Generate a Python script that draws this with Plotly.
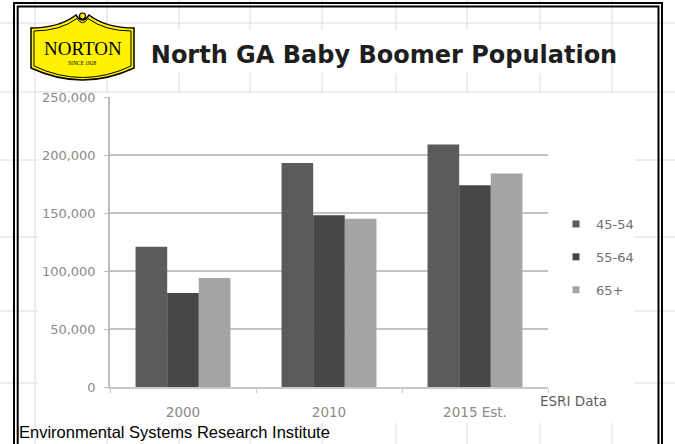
import plotly.graph_objects as go

# ---------------- data ----------------
categories = ["2000", "2010", "2015 Est."]
age_groups = ["45-54", "55-64", "65+"]
pop_45_54 = [121000, 193000, 209000]
pop_55_64 = [81000, 148000, 174000]
pop_65_plus = [94000, 145000, 184000]
y_tick_vals = [0, 50000, 100000, 150000, 200000, 250000]
series = [pop_45_54, pop_55_64, pop_65_plus]
bar_colors = ["#5b5b5b", "#474747", "#a4a4a4"]

# ---------------- geometry helpers (pixel -> paper) ----------------
W, H = 675, 444
L, R, T, B = 110, 548, 97, 387


def px(x):
    return (x - L) / (R - L)


def py(y):
    return (B - y) / (B - T)


def path(points_cmds):
    out = []
    for cmd, pts in points_cmds:
        coords = " ".join(f"{px(x):.5f},{py(y):.5f}" for x, y in pts)
        out.append(f"{cmd}{coords}")
    return " ".join(out)


fig = go.Figure()

for name, vals, col in zip(age_groups, series, bar_colors):
    fig.add_trace(go.Bar(
        x=categories, y=vals, name=name, marker=dict(color=col, line=dict(width=0)),
        showlegend=False, legendgroup=name, hoverinfo="x+y+name"))

# legend entries with small square markers
for name, col in zip(age_groups, bar_colors):
    fig.add_trace(go.Scatter(
        x=[None], y=[None], mode="markers", name=name, legendgroup=name,
        marker=dict(symbol="square", size=7, color=col), showlegend=True))

shapes = []
grid_col = "#dadada"
# spreadsheet background grid
for gx in [35, 107, 179, 250, 322, 396, 467, 540, 612]:
    shapes.append(dict(type="line", xref="paper", yref="paper", x0=px(gx), x1=px(gx),
                       y0=py(0), y1=py(H), line=dict(color=grid_col, width=1), layer="below"))
for gy in [23, 92, 160, 237, 311, 383]:
    shapes.append(dict(type="line", xref="paper", yref="paper", x0=px(0), x1=px(W),
                       y0=py(gy), y1=py(gy), line=dict(color=grid_col, width=1), layer="below"))
# white chart image + title image areas
shapes.append(dict(type="rect", xref="paper", yref="paper", x0=px(38), x1=px(635),
                   y0=py(93), y1=py(423), fillcolor="white", line=dict(width=0), layer="below"))
shapes.append(dict(type="rect", xref="paper", yref="paper", x0=px(145), x1=px(606),
                   y0=py(30), y1=py(73), fillcolor="white", line=dict(width=0), layer="below"))
# double frame
shapes.append(dict(type="path", xref="paper", yref="paper", layer="below",
                   path=path([("M", [(14, 460)]), ("L", [(14, 3)]), ("L", [(662, 3)]), ("L", [(662, 460)])]),
                   line=dict(color="black", width=2)))
shapes.append(dict(type="path", xref="paper", yref="paper", layer="below",
                   path=path([("M", [(17.7, 460)]), ("L", [(17.7, 6.5)]), ("L", [(658.5, 6.5)]), ("L", [(658.5, 460)])]),
                   line=dict(color="black", width=2)))
# Norton logo shield
outer = path([
    ("M", [(31, 28)]), ("L", [(31, 68)]), ("Q", [(82.5, 92), (134, 68)]), ("L", [(134, 28)]),
    ("Q", [(106, 28), (89, 15)]), ("Q", [(82.5, 25), (76, 15)]), ("Q", [(59, 28), (31, 28)]), ("Z", []),
])
shapes.append(dict(type="path", xref="paper", yref="paper", layer="above", path=outer,
                   fillcolor="#fff200", line=dict(color="black", width=1.5)))
inner = path([
    ("M", [(34, 31)]), ("L", [(34, 66)]), ("Q", [(82.5, 89), (131, 66)]), ("L", [(131, 31)]),
    ("Q", [(105, 31), (88, 18.5)]), ("Q", [(82.5, 27), (77, 18.5)]), ("Q", [(60, 31), (34, 31)]), ("Z", []),
])
shapes.append(dict(type="path", xref="paper", yref="paper", layer="above", path=inner,
                   line=dict(color="black", width=1)))
shapes.append(dict(type="circle", xref="paper", yref="paper", layer="above",
                   x0=px(79.5), x1=px(85.5), y0=py(13), y1=py(19),
                   fillcolor="#fff200", line=dict(color="black", width=1.2)))

annotations = [
    dict(text="NORTON", x=px(82.5), y=py(49), xref="paper", yref="paper", showarrow=False,
         xanchor="center", yanchor="middle",
         font=dict(family="Liberation Serif", size=19, color="black")),
    dict(text="SINCE 1928", x=px(82.5), y=py(63.5), xref="paper", yref="paper", showarrow=False,
         xanchor="center", yanchor="middle",
         font=dict(family="Liberation Serif", size=5.5, color="black")),
    dict(text="ESRI Data", x=px(573), y=py(401), xref="paper", yref="paper", showarrow=False,
         xanchor="center", yanchor="middle",
         font=dict(family="DejaVu Sans", size=13.5, color="#5e5e5e")),
    dict(text="Environmental Systems Research Institute", x=px(17), y=py(432), xref="paper",
         yref="paper", showarrow=False, xanchor="left", yanchor="middle",
         font=dict(family="Liberation Sans", size=16.5, color="black")),
]

fig.update_layout(
    width=W, height=H,
    margin=dict(l=L, r=W - R, t=T, b=H - B, pad=0),
    paper_bgcolor="white", plot_bgcolor="white",
    barmode="group", bargap=0.35, bargroupgap=0,
    title=dict(text="<b>North GA Baby Boomer Population</b>", x=384 / W, y=1 - 55 / H,
               xref="container", yref="container", xanchor="center", yanchor="middle",
               font=dict(family="DejaVu Sans", size=24, color="#1e1e1e")),
    legend=dict(x=px(556), y=py(209), xanchor="left", yanchor="top", xref="paper", yref="paper",
                bgcolor="rgba(0,0,0,0)", tracegroupgap=13,
                font=dict(family="DejaVu Sans", size=13, color="#707070")),
    shapes=shapes, annotations=annotations,
    xaxis=dict(type="category", showline=True, linecolor="#c8c8c8", linewidth=1.5,
               ticks="outside", tickson="boundaries", ticklen=4, tickcolor="#c8c8c8",
               tickfont=dict(family="DejaVu Sans", size=13.5, color="#8a8a8a"),
               ticklabelstandoff=12, showgrid=False),
    yaxis=dict(range=[0, 250000], tickvals=y_tick_vals, tickformat=",", showgrid=True,
               gridcolor="#c2c2c2", gridwidth=1.5, showline=True, linecolor="#bdbdbd",
               linewidth=1.5, ticks="outside", ticklen=4, tickcolor="#bdbdbd", zeroline=False,
               tickfont=dict(family="DejaVu Sans", size=13, color="#8a8a8a"),
               ticklabelstandoff=6),
    hovermode="closest",
)

fig.write_html("out.html")
